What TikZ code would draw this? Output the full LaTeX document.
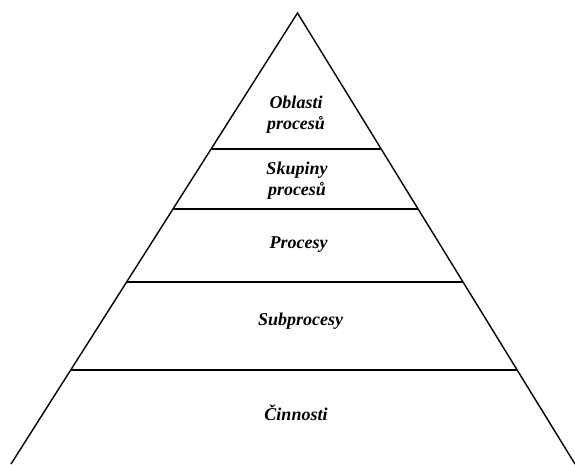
\documentclass[tikz,border=0pt]{standalone}
\usepackage{fontspec}
\setmainfont{Liberation Serif}
\begin{document}
\begin{tikzpicture}[x=1pt,y=-1pt,
  edge/.style={line width=1.4pt,black},
  level/.style={font=\fontsize{18}{21}\selectfont\bfseries\itshape,align=center,inner sep=0pt}]
\useasboundingbox (0,0) rectangle (575,464);
% outline of the pyramid
\coordinate (apex) at (297.5,13);
\coordinate (bl) at (11,464);
\coordinate (br) at (575,464);
\draw[edge,line join=miter] (bl) -- (apex) -- (br);
% dividing lines between the levels
\foreach \y/\n in {149/a,209/b,282/c,370/d}{
  \path (apex) -- (bl) coordinate[pos={(\y-13)/451}] (l\n);
  \path (apex) -- (br) coordinate[pos={(\y-13)/451}] (r\n);
  \draw[edge] (l\n) -- (r\n);
}
% level labels
\node[level] (t1) at (296,115) {Oblasti\\procesů};
\node[level] (t2) at (297,181) {Skupiny\\procesů};
\node[level] (t3) at (298.5,245) {Procesy};
\node[level] (t4) at (300.5,321) {Subprocesy};
\node[level] (t5) at (296,413) {Činnosti};
\end{tikzpicture}
\end{document}
